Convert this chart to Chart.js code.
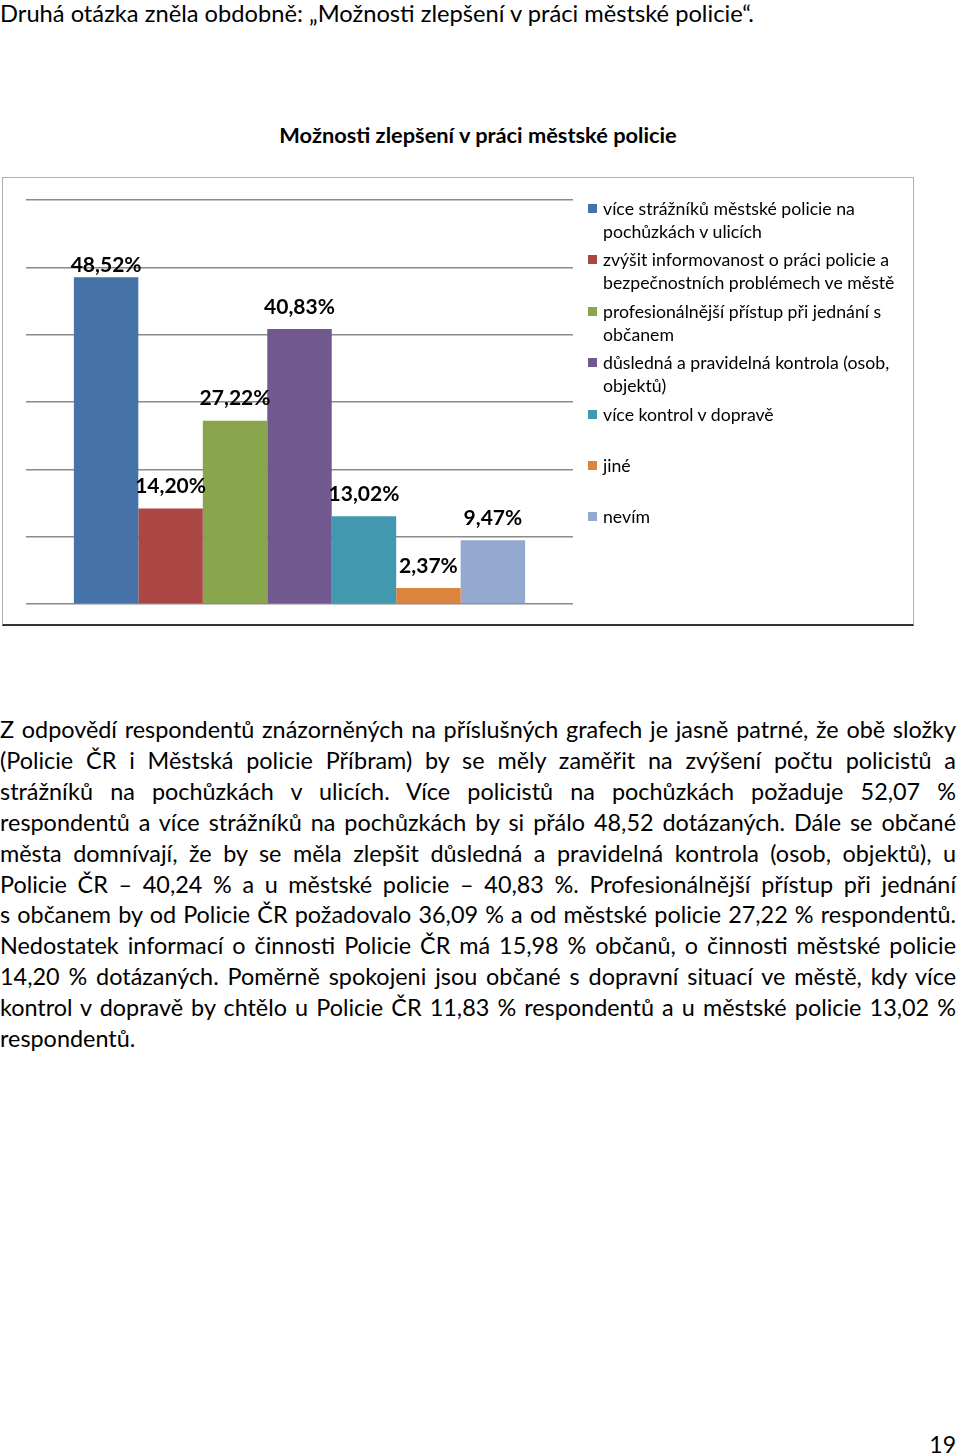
<!doctype html>
<html>
<head>
  <meta charset="utf-8">
  <script src="https://cdn.jsdelivr.net/npm/chart.js@4.4.1/dist/chart.umd.min.js"></script>
  <style>
    body { margin: 0; width: 960px; height: 1454px; position: relative; background: #fff; font-family: Lato, sans-serif; color: #000; }
    .intro { position: absolute; left: 0; top: 0; font-size: 23.7px; line-height: 26px; white-space: nowrap; }
    .title { position: absolute; left: 0; width: 956px; top: 121px; text-align: center; font-weight: bold; font-size: 21.8px; line-height: 28px; }
    .box { position: absolute; left: 2px; top: 177px; width: 910px; height: 446px; border: 1px solid #b0b0b0; border-bottom: 2px solid #333; }
    .wrap { position: absolute; left: 0; top: 0; width: 910px; height: 446px; }
    #legend { position: absolute; left: 585px; top: 19px; margin: 0; padding: 0; list-style: none; font-size: 17.7px; line-height: 23px; }
    #legend li { height: 51.4px; position: relative; padding-left: 15px; white-space: nowrap; }
    #legend li span { position: absolute; left: 0; top: 7px; width: 9px; height: 9px; }
    .text { position: absolute; left: 0; top: 714px; width: 956px; font-size: 23.4px; line-height: 30.9px; }
    .text div { text-align: justify; text-align-last: justify; white-space: nowrap; }
    .text div.last { text-align-last: left; }
    .page { position: absolute; right: 4px; top: 1430px; font-size: 23px; }
  </style>
</head>
<body>
  <div class="intro">Druhá otázka zněla obdobně: „Možnosti zlepšení v práci městské policie“.</div>
  <div class="title">Možnosti zlepšení v práci městské policie</div>
  <div class="box">
    <div class="wrap"><canvas id="canvas"></canvas></div>
    <ul id="legend"></ul>
  </div>
  <div class="text" id="text"></div>
  <div class="page">19</div>
  <script>
    const categories = [
      ['více strážníků městské policie na', 'pochůzkách v ulicích'],
      ['zvýšit informovanost o práci policie a', 'bezpečnostních problémech ve městě'],
      ['profesionálnější přístup při jednání s', 'občanem'],
      ['důsledná a pravidelná kontrola (osob,', 'objektů)'],
      ['více kontrol v dopravě'],
      ['jiné'],
      ['nevím']
    ];
    const values = [48.52, 14.20, 27.22, 40.83, 13.02, 2.37, 9.47];
    const colors = ['#4572A7', '#AA4643', '#89A54E', '#71588F', '#4198AF', '#DB843D', '#93A9CF'];
    const yTicks = [0, 10, 20, 30, 40, 50, 60];

    const paragraph = [
      'Z odpovědí respondentů znázorněných na příslušných grafech je jasně patrné, že obě složky',
      '(Policie ČR i Městská policie Příbram) by se měly zaměřit na zvýšení počtu policistů a',
      'strážníků na pochůzkách v\u00a0ulicích. Více policistů na pochůzkách požaduje 52,07 %',
      'respondentů a více strážníků na pochůzkách by si přálo 48,52 dotázaných. Dále se občané',
      'města domnívají, že by se měla zlepšit důsledná a pravidelná kontrola (osob, objektů), u',
      'Policie ČR – 40,24 % a u městské policie – 40,83 %. Profesionálnější přístup při jednání',
      's\u00a0občanem by od Policie ČR požadovalo 36,09 % a od městské policie 27,22 % respondentů.',
      'Nedostatek informací o činnosti Policie ČR má 15,98 % občanů, o činnosti městské policie',
      '14,20 % dotázaných. Poměrně spokojeni jsou občané s\u00a0dopravní situací ve městě, kdy více',
      'kontrol v\u00a0dopravě by chtělo u Policie ČR 11,83 % respondentů a u městské policie 13,02 %',
      'respondentů.'
    ];

    const textEl = document.getElementById('text');
    paragraph.forEach((line, i) => {
      const d = document.createElement('div');
      d.textContent = line;
      if (i === paragraph.length - 1) d.className = 'last';
      textEl.appendChild(d);
    });

    const legendEl = document.getElementById('legend');
    categories.forEach((lines, i) => {
      const li = document.createElement('li');
      const sw = document.createElement('span');
      sw.style.background = colors[i];
      li.appendChild(sw);
      lines.forEach((l, j) => {
        if (j > 0) li.appendChild(document.createElement('br'));
        li.appendChild(document.createTextNode(l));
      });
      legendEl.appendChild(li);
    });

    const valueLabels = {
      id: 'valueLabels',
      afterDatasetsDraw(chart) {
        const ctx = chart.ctx;
        ctx.save();
        ctx.font = 'bold 21px Lato';
        ctx.fillStyle = '#000';
        ctx.textAlign = 'center';
        ctx.textBaseline = 'middle';
        chart.data.datasets.forEach((ds, i) => {
          const bar = chart.getDatasetMeta(i).data[0];
          const y = Math.max(bar.y - 22, chart.chartArea.top + 65);
          ctx.fillText(ds.data[0].toFixed(2).replace('.', ',') + '%', bar.x, y);
        });
        ctx.restore();
      }
    };

    new Chart(document.getElementById('canvas'), {
      type: 'bar',
      data: {
        labels: [''],
        datasets: values.map((v, i) => ({
          label: categories[i].join(' '),
          data: [v],
          backgroundColor: colors[i],
          borderWidth: 0
        }))
      },
      options: {
        responsive: true,
        maintainAspectRatio: false,
        animation: false,
        categoryPercentage: 0.825,
        barPercentage: 1,
        layout: { padding: { left: 23, top: 22, right: 340, bottom: 20 } },
        plugins: { legend: { display: false }, tooltip: { enabled: false } },
        scales: {
          x: { display: false },
          y: {
            min: yTicks[0],
            max: yTicks[yTicks.length - 1],
            afterBuildTicks: (axis) => { axis.ticks = yTicks.map((v) => ({ value: v })); },
            ticks: { display: false },
            border: { display: false },
            grid: { color: '#8a8a8a', lineWidth: 1.5, drawTicks: false }
          }
        }
      },
      plugins: [valueLabels]
    });
  </script>
</body>
</html>
